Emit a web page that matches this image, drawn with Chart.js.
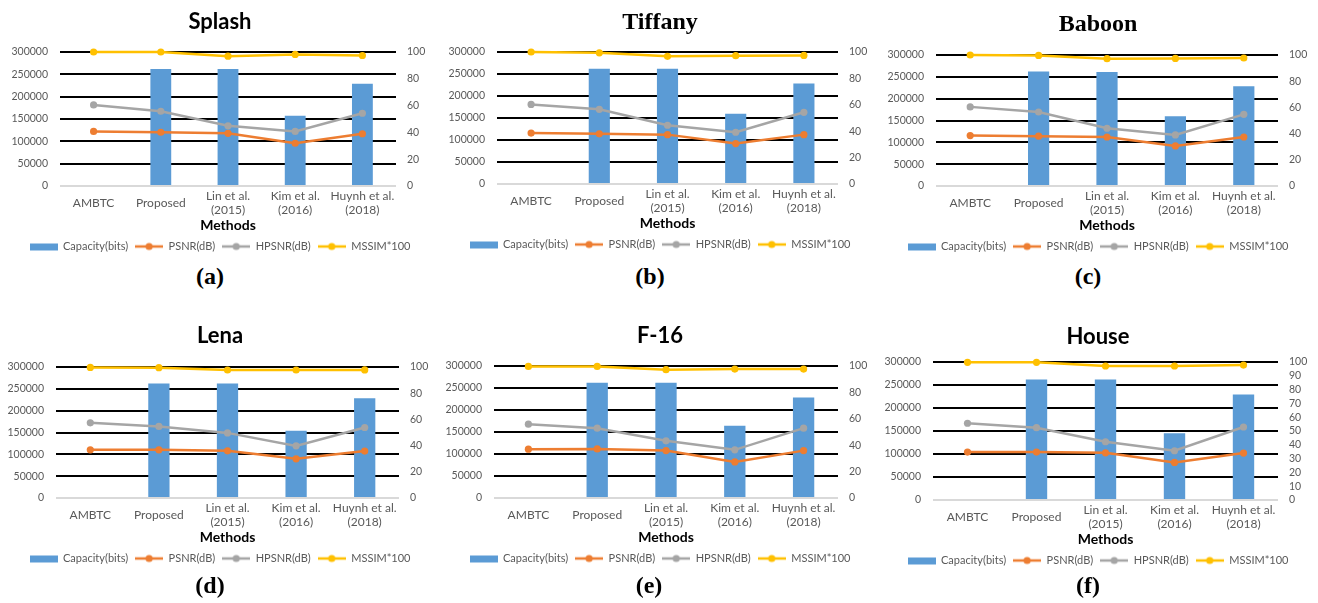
<!DOCTYPE html>
<html>
<head>
<meta charset="utf-8">
<script src="https://cdn.jsdelivr.net/npm/chart.js@4"></script>
<style>
  body { margin: 0; background: #fff; width: 1318px; height: 603px; position: relative; overflow: hidden; }
  .panel { position: absolute; }
  .tag { position: absolute; font: bold 24px "Liberation Serif", serif; color: #000; transform: translate(-50%, -50%); }
</style>
</head>
<body>
<script>
// categories
const methods = ['AMBTC', 'Proposed', ['Lin et al.', '(2015)'], ['Kim et al.', '(2016)'], ['Huynh et al.', '(2018)']];
const seriesNames = ['Capacity(bits)', 'PSNR(dB)', 'HPSNR(dB)', 'MSSIM*100'];

// Splash
const capSplash   = [0, 262144, 262144, 157000, 229000];
const psnrSplash  = [40.7, 40.1, 39.3, 31.9, 39.0];
const hpsnrSplash = [60.5, 55.8, 44.9, 40.7, 54.3];
const mssimSplash = [100, 100, 96.9, 98.2, 97.4];

// Tiffany
const capTiffany   = [0, 262144, 262144, 159500, 228500];
const psnrTiffany  = [38.6, 38.0, 37.4, 30.6, 37.4];
const hpsnrTiffany = [60.3, 56.6, 44.5, 39.2, 54.3];
const mssimTiffany = [100, 99.4, 96.7, 97.2, 97.4];

// Baboon
const capBaboon   = [0, 262144, 261000, 160000, 228500];
const psnrBaboon  = [38.5, 38.0, 37.4, 30.6, 37.4];
const hpsnrBaboon = [60.4, 56.5, 44.1, 39.0, 54.7];
const mssimBaboon = [100, 99.7, 97.2, 97.4, 97.7];

// Lena
const capLena   = [0, 262144, 262144, 153800, 228500];
const psnrLena  = [36.8, 36.8, 36.0, 29.9, 35.8];
const hpsnrLena = [57.4, 54.6, 49.7, 39.8, 53.8];
const mssimLena = [99.7, 99.5, 97.7, 97.7, 97.8];

// F-16
const capF16   = [0, 262144, 262144, 164000, 228600];
const psnrF16  = [37.0, 37.2, 35.9, 27.3, 35.9];
const hpsnrF16 = [55.9, 52.9, 43.3, 36.5, 52.9];
const mssimF16 = [99.7, 99.7, 97.2, 97.7, 97.7];

// House
const capHouse   = [0, 262144, 262144, 145000, 229400];
const psnrHouse  = [34.7, 34.7, 34.2, 27.2, 34.0];
const hpsnrHouse = [55.6, 52.4, 42.2, 35.7, 52.9];
const mssimHouse = [99.8, 99.8, 97.1, 97.1, 97.8];

const panels = [
  { name: 'Splash',  tag: '(a)', cap: capSplash,  psnr: psnrSplash,  hpsnr: hpsnrSplash,  mssim: mssimSplash,  rightStep: 20 },
  { name: 'Tiffany', tag: '(b)', cap: capTiffany, psnr: psnrTiffany, hpsnr: hpsnrTiffany, mssim: mssimTiffany, rightStep: 20 },
  { name: 'Baboon',  tag: '(c)', cap: capBaboon,  psnr: psnrBaboon,  hpsnr: hpsnrBaboon,  mssim: mssimBaboon,  rightStep: 20 },
  { name: 'Lena',    tag: '(d)', cap: capLena,    psnr: psnrLena,    hpsnr: hpsnrLena,    mssim: mssimLena,    rightStep: 20 },
  { name: 'F-16',    tag: '(e)', cap: capF16,     psnr: psnrF16,     hpsnr: hpsnrF16,     mssim: mssimF16,     rightStep: 20 },
  { name: 'House',   tag: '(f)', cap: capHouse,   psnr: psnrHouse,   hpsnr: hpsnrHouse,   mssim: mssimHouse,   rightStep: 10 }
];

// page placement of each panel
const frames = [
  { left: 0,   top: 0,   plotL: 60, plotR: 44, titleY: 22, plotTop: 52, plotBottom: 186, serif: false, tagX: 210, tagY: 276 },
  { left: 440, top: 0,   plotL: 57, plotR: 42, titleY: 23, plotTop: 52, plotBottom: 184, serif: true,  tagX: 650, tagY: 276 },
  { left: 878, top: 0,   plotL: 58, plotR: 40, titleY: 25, plotTop: 55, plotBottom: 186, serif: true,  tagX: 1088, tagY: 276 },
  { left: 0,   top: 300, plotL: 56, plotR: 41, titleY: 36, plotTop: 67, plotBottom: 198, serif: false, tagX: 210, tagY: 585 },
  { left: 440, top: 300, plotL: 54, plotR: 42, titleY: 36, plotTop: 66, plotBottom: 198, serif: false, tagX: 649, tagY: 585 },
  { left: 878, top: 300, plotL: 55, plotR: 40, titleY: 37, plotTop: 62, plotBottom: 200, serif: false, tagX: 1088, tagY: 585 }
];

const colors = ['#5B9BD5', '#ED7D31', '#A5A5A5', '#FFC000'];
const tickColor = '#595959';
const sans = 'Lato';

function barIcon(color) {
  const c = document.createElement('canvas');
  c.width = 28; c.height = 10;
  const g = c.getContext('2d');
  g.fillStyle = color;
  g.fillRect(0, 2, 28, 7);
  return c;
}

function lineIcon(color) {
  const c = document.createElement('canvas');
  c.width = 28; c.height = 10;
  const g = c.getContext('2d');
  g.strokeStyle = color;
  g.lineWidth = 2.5;
  g.beginPath(); g.moveTo(0, 5); g.lineTo(28, 5); g.stroke();
  g.fillStyle = color;
  g.beginPath(); g.arc(14, 5, 3.6, 0, Math.PI * 2); g.fill();
  return c;
}

const icons = [barIcon(colors[0]), lineIcon(colors[1]), lineIcon(colors[2]), lineIcon(colors[3])];

const X_AXIS_H = 48;
const LEGEND_H = 28;

panels.forEach((p, i) => {
  const f = frames[i];
  const titleSize = f.serif ? 24 : 22;
  const titleLine = titleSize * 1.2;
  const padTop = f.titleY - titleLine / 2;
  const padBottom = f.plotTop - padTop - titleLine;
  const height = f.plotBottom + X_AXIS_H + LEGEND_H;

  const div = document.createElement('div');
  div.className = 'panel';
  div.style.left = f.left + 'px';
  div.style.top = f.top + 'px';
  const canvas = document.createElement('canvas');
  canvas.width = 440;
  canvas.height = height;
  div.appendChild(canvas);
  document.body.appendChild(div);

  const tag = document.createElement('div');
  tag.className = 'tag';
  tag.textContent = p.tag;
  tag.style.left = f.tagX + 'px';
  tag.style.top = f.tagY + 'px';
  document.body.appendChild(tag);

  const lineSet = (label, data, color, order) => ({
    type: 'line',
    label: label,
    data: data,
    yAxisID: 'y1',
    borderColor: color,
    backgroundColor: color,
    borderWidth: 2.5,
    pointRadius: 3.6,
    pointBorderWidth: 0,
    pointBackgroundColor: color,
    tension: 0,
    clip: false,
    order: order
  });

  new Chart(canvas, {
    type: 'bar',
    data: {
      labels: methods,
      datasets: [
        {
          label: seriesNames[0],
          data: p.cap,
          yAxisID: 'y',
          backgroundColor: colors[0],
          barPercentage: 0.31,
          categoryPercentage: 1,
          order: 10
        },
        lineSet(seriesNames[1], p.psnr, colors[1], 3),
        lineSet(seriesNames[2], p.hpsnr, colors[2], 2),
        lineSet(seriesNames[3], p.mssim, colors[3], 1)
      ]
    },
    options: {
      responsive: false,
      animation: false,
      layout: { padding: 0 },
      plugins: {
        title: {
          display: true,
          text: p.name,
          color: '#000',
          font: { family: f.serif ? 'Liberation Serif' : sans, size: titleSize, weight: 'bold' },
          padding: { top: padTop, bottom: padBottom }
        },
        legend: {
          position: 'bottom',
          labels: {
            usePointStyle: true,
            pointStyleWidth: 28,
            boxHeight: 10,
            padding: 7,
            color: tickColor,
            font: { family: sans, size: 11 },
            generateLabels: chart => chart.data.datasets.map((ds, k) => ({
              text: ds.label,
              pointStyle: icons[k],
              fillStyle: colors[k],
              strokeStyle: colors[k],
              lineWidth: 0,
              hidden: false,
              datasetIndex: k,
              fontColor: tickColor
            }))
          }
        },
        tooltip: { enabled: false }
      },
      scales: {
        x: {
          grid: { display: false, drawTicks: false },
          border: { display: false },
          ticks: { color: tickColor, font: { family: sans, size: 12 }, padding: 10, crossAlign: 'center', maxRotation: 0, autoSkip: false },
          title: { display: true, text: 'Methods', color: '#000', font: { family: sans, size: 14, weight: 'bold' }, padding: { top: 0, bottom: 0 } },
          afterFit: s => { s.height = X_AXIS_H; }
        },
        y: {
          position: 'left',
          min: 0,
          max: 300000,
          ticks: { stepSize: 50000, color: tickColor, font: { family: sans, size: 10.5 }, padding: 12, autoSkip: false, callback: v => String(v) },
          grid: {
            drawTicks: false,
            lineWidth: 2,
            color: c => (c.tick && c.tick.value === 0) ? '#D9D9D9' : '#000000'
          },
          border: { display: false },
          afterFit: s => { s.width = f.plotL; }
        },
        y1: {
          position: 'right',
          min: 0,
          max: 100,
          ticks: { stepSize: p.rightStep, color: tickColor, font: { family: sans, size: 10.5 }, padding: 11, autoSkip: false, callback: v => String(v) },
          grid: { display: false, drawTicks: false },
          border: { display: false },
          afterFit: s => { s.width = f.plotR; }
        }
      }
    }
  });
});
</script>
</body>
</html>
